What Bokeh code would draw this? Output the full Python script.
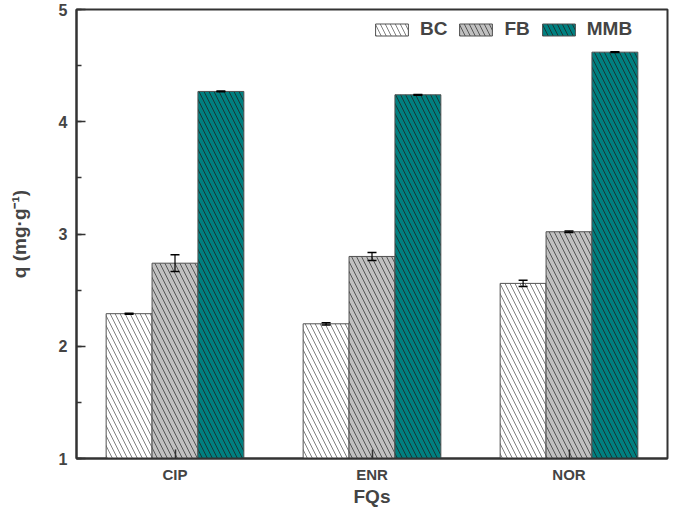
from bokeh.plotting import figure
from bokeh.models import (ColumnDataSource, Whisker, TeeHead, FixedTicker,
                          SingleIntervalTicker, Range1d, Legend, LegendItem)
from bokeh.embed import file_html
from bokeh.resources import INLINE

# ---- data ----
categories = ["CIP", "ENR", "NOR"]
series = ["BC", "FB", "MMB"]
bc = [2.29, 2.20, 2.56]
bc_err = [0.005, 0.01, 0.027]
fb = [2.74, 2.80, 3.02]
fb_err = [0.075, 0.035, 0.006]
mmb = [4.27, 4.24, 4.62]
mmb_err = [0.003, 0.003, 0.003]
y_ticks = [1, 2, 3, 4, 5]

FONT = "Liberation Sans"

p = figure(width=669, height=509, output_backend="svg", toolbar_location=None,
           x_range=Range1d(0.5, 3.5), y_range=Range1d(1, 5),
           min_border_left=76, min_border_right=2, min_border_top=9,
           min_border_bottom=10)
p.background_fill_color = "white"
p.border_fill_color = "white"
p.grid.visible = False
p.outline_line_color = "#333333"
p.outline_line_width = 2

xs = [i + 1 for i in range(len(categories))]
bw = 0.233
offsets = [-bw, 0.0, bw]
vals = [bc, fb, mmb]
errs = [bc_err, fb_err, mmb_err]
fills = ["white", "#c0c0c0", "#008080"]
hatch_cols = ["#808080", "#555555", "#1a3535"]

renderers = []
for k in range(3):
    x = [xi + offsets[k] for xi in xs]
    src = ColumnDataSource(dict(
        x=x, top=vals[k],
        upper=[v + e for v, e in zip(vals[k], errs[k])],
        lower=[v - e for v, e in zip(vals[k], errs[k])]))
    r = p.vbar(x="x", top="top", bottom=1, width=bw, source=src,
               fill_color=fills[k], line_color="#505050", line_width=1,
               hatch_pattern="left_diagonal_line", hatch_color=hatch_cols[k],
               hatch_scale=10, hatch_weight=1)
    renderers.append(r)
    w = Whisker(source=src, base="x", upper="upper", lower="lower",
                line_color="black", line_width=1.2, level="overlay",
                upper_head=TeeHead(size=9, line_color="black", line_width=1.5),
                lower_head=TeeHead(size=9, line_color="black", line_width=1.5))
    p.add_layout(w)

# ---- axes ----
xa = p.xaxis[0]
xa.ticker = FixedTicker(ticks=xs)
xa.major_label_overrides = {xi: c for xi, c in zip(xs, categories)}
xa.minor_tick_line_color = None
xa.major_tick_in = 9
xa.major_tick_out = 0
xa.axis_label = "FQs"
xa.axis_label_text_font = FONT
xa.axis_label_text_font_style = "bold"
xa.axis_label_text_font_size = "19px"
xa.axis_label_standoff = 0
xa.major_label_text_font = FONT
xa.major_label_text_font_style = "bold"
xa.major_label_text_font_size = "15px"
xa.major_label_standoff = 7

ya = p.yaxis[0]
ya.ticker = SingleIntervalTicker(interval=1, num_minor_ticks=2)
ya.major_tick_in = 9
ya.major_tick_out = 0
ya.minor_tick_in = 5
ya.minor_tick_out = 0
ya.axis_label = "q (mg·g⁻¹)"
ya.axis_label_text_font = FONT
ya.axis_label_text_font_style = "bold"
ya.axis_label_text_font_size = "19px"
ya.axis_label_standoff = 26
ya.major_label_text_font = FONT
ya.major_label_text_font_style = "bold"
ya.major_label_text_font_size = "16px"
ya.major_label_standoff = 9

for ax in (xa, ya):
    ax.axis_line_color = "#333333"
    ax.axis_line_width = 2
    ax.major_tick_line_color = "#333333"
    ax.major_tick_line_width = 1.5
    ax.minor_tick_line_color = "#333333" if ax is ya else None
    ax.minor_tick_line_width = 1.5

# ---- legend ----
legend = Legend(items=[LegendItem(label=s, renderers=[r]) for s, r in zip(series, renderers)],
                orientation="horizontal", location=(295, 418),
                glyph_width=41, glyph_height=15, label_height=15,
                label_standoff=8, spacing=8, padding=0, margin=0,
                border_line_alpha=0, background_fill_alpha=0,
                label_text_font=FONT, label_text_font_style="bold",
                label_text_font_size="19px")
p.add_layout(legend)

open("out.html", "w").write(file_html(p, INLINE))
